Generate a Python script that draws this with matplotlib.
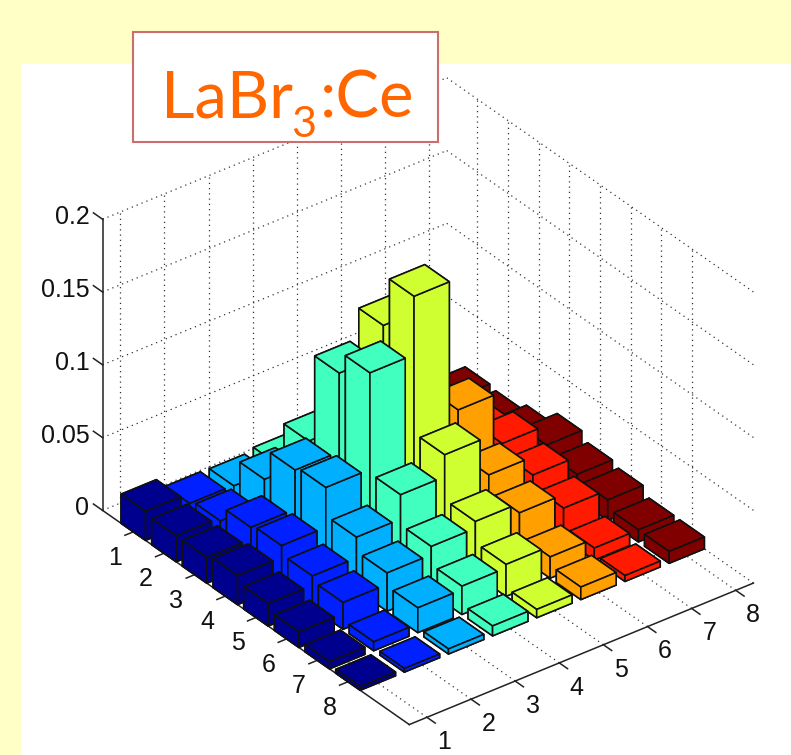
import matplotlib
matplotlib.use("Agg")
import numpy as np
import matplotlib.pyplot as plt
from matplotlib.patches import Rectangle
from mpl_toolkits.mplot3d import proj3d

# heights, one list per column, rows 1..8 (hidden bars are guessed)
col1 = [0.0200, 0.0178, 0.0177, 0.0200, 0.0154, 0.0107, 0.0049, 0.0026]
col2 = [0.0129, 0.0156, 0.0259, 0.0281, 0.0219, 0.0184, 0.0061, 0.0025]
col3 = [0.0125, 0.0318, 0.0529, 0.0556, 0.0362, 0.0263, 0.0170, 0.0035]
col4 = [0.0147, 0.0456, 0.1070, 0.1219, 0.0529, 0.0321, 0.0194, 0.0068]
col5 = [0.0200, 0.0400, 0.1273, 0.1620, 0.0679, 0.0368, 0.0219, 0.0057]
col6 = [0.0150, 0.0300, 0.0400, 0.0715, 0.0416, 0.0303, 0.0146, 0.0086]
col7 = [0.0100, 0.0250, 0.0300, 0.0360, 0.0290, 0.0209, 0.0082, 0.0040]
col8 = [0.0102, 0.0085, 0.0133, 0.0223, 0.0169, 0.0141, 0.0083, 0.0081]
columns = [col1, col2, col3, col4, col5, col6, col7, col8]

col_colors = ["#00008F", "#0020FF", "#00B0FF", "#40FFBF",
              "#CFFF30", "#FFA000", "#FF1A00", "#800000"]
ticks = [1, 2, 3, 4, 5, 6, 7, 8]
z_ticks = [0, 0.05, 0.1, 0.15, 0.2]
z_labels = ["0", "0.05", "0.1", "0.15", "0.2"]

W, H = 791, 755
x0, x1 = 0.6, 8.4
y0, y1 = 0, 10
z0, z1 = 0, 0.2
bar_w = 0.8

plt.rcParams["font.family"] = ["Liberation Sans", "DejaVu Sans"]

fig = plt.figure(figsize=(W / 100, H / 100), dpi=100, facecolor="#FFFFC6")
fig.add_artist(Rectangle((21 / W, 0), 1 - 21 / W, 1 - 64 / H, transform=fig.transFigure,
                         facecolor="white", edgecolor="none", zorder=-1))

ax = fig.add_axes([54.7 / W, -19.5 / H, 727 / W, 727 / H], projection="3d",
                  proj_type="ortho", computed_zorder=False)
ax.set_box_aspect((434, 504, 345))
ax.view_init(elev=32.4, azim=-127.5)
ax.set_axis_off()
ax.patch.set_visible(False)

# dotted grid: floor and the two back walls
dots = dict(color="#333333", linestyle=(0, (1, 3.2)), linewidth=0.9, zorder=1)
for t in ticks:
    ax.plot([t, t], [y0, y1], [z0, z0], **dots)
    ax.plot([x0, x1], [t, t], [z0, z0], **dots)
    ax.plot([t, t], [y0, y0], [z0, z1], **dots)
    ax.plot([x1, x1], [t, t], [z0, z1], **dots)
for z in z_ticks:
    ax.plot([x0, x1], [y0, y0], [z, z], **dots)
    ax.plot([x1, x1], [y0, y1], [z, z], **dots)

# solid axes and tick marks
solid = dict(color="#222222", linewidth=1.1, zorder=2)
ax.plot([x0, x0], [y0, y0], [z0, z1], **solid)
ax.plot([x0, x0], [y0, y1], [z0, z0], **solid)
ax.plot([x0, x1], [y1, y1], [z0, z0], **solid)
for t in ticks:
    ax.plot([t, t], [y1, y1 + 0.27], [z0, z0], **solid)
    ax.plot([x0, x0 - 0.19], [t, t], [z0, z0], **solid)
for z in z_ticks:
    ax.plot([x0, x0], [y0, y0 - 0.3], [z, z], **solid)

# back to front: last column first, first row first
order = 10
for c in range(7, -1, -1):
    for r in range(8):
        ax.bar3d(c + 1 - bar_w / 2, r + 1 - bar_w / 2, 0, bar_w, bar_w, columns[c][r],
                 color=col_colors[c], edgecolor="#101010", linewidth=1.15,
                 shade=False, zorder=order)
        order += 1

ax.set_xlim(x0, x1, view_margin=0)
ax.set_ylim(y1, y0, view_margin=0)
ax.set_zlim(z0, z1, view_margin=0)

# tick labels go on last, they need the final limits to be projected
def label(x, y, z, s, ha="center"):
    px, py, _ = proj3d.proj_transform(x, y, z, ax.get_proj())
    ax.text2D(px, py, s, transform=ax.transData, fontsize=18, ha=ha, va="center", color="#111111")

for t in ticks:
    label(t - 0.255, y1 + 0.94, z0, str(t))
    label(x0 - 0.79, t + 0.54, z0, str(t))
for z, lab in zip(z_ticks, z_labels):
    label(x0, y0 - 0.43, z - 0.005, lab, ha="right")

# title box, the subscript is its own text so it can sit low like the original
fig.add_artist(Rectangle((133 / W, 1 - 142 / H), 305 / W, 110 / H, transform=fig.transFigure,
                         facecolor="white", edgecolor="#CC6E6E", linewidth=1.5, zorder=5))
title = dict(color="#FF6600", family="Lato", va="baseline", zorder=6)
fig.text(161 / W, 1 - 117 / H, "LaBr", fontsize=47, ha="left", **title)
fig.text(304 / W, 1 - 137 / H, "3", fontsize=31, ha="center", **title)
fig.text(414 / W, 1 - 117 / H, ":Ce", fontsize=47, ha="right", **title)

fig.savefig("out.png", dpi=100, facecolor=fig.get_facecolor())
